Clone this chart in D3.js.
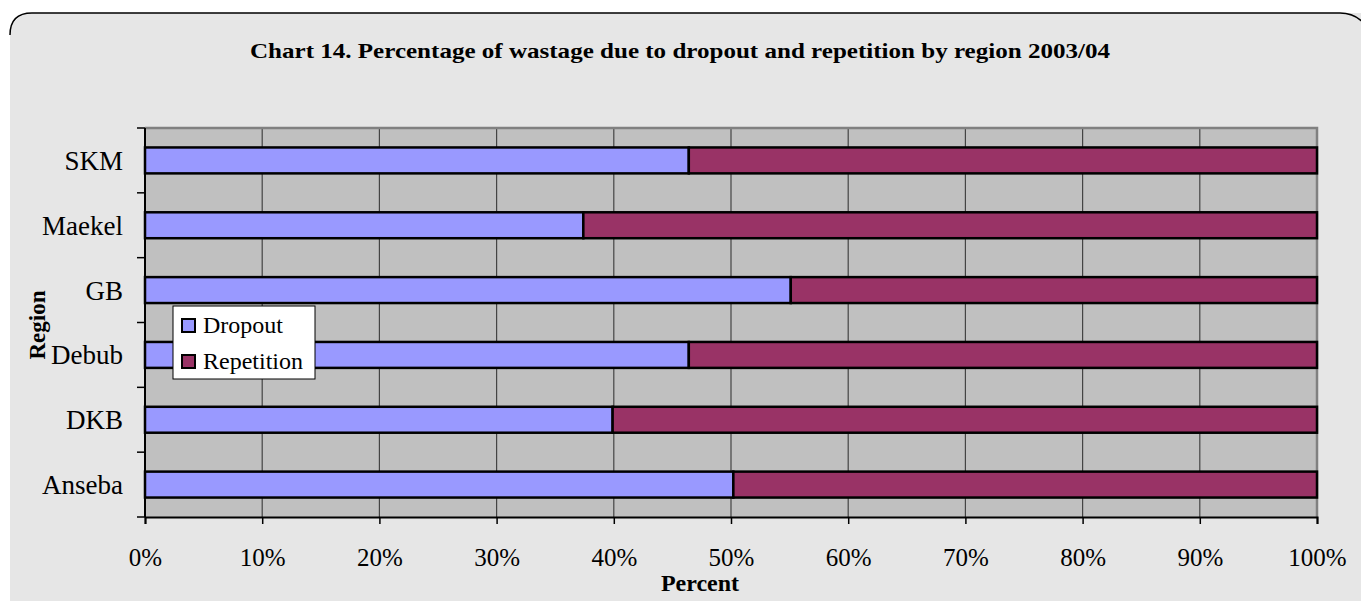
<!DOCTYPE html>
<html>
<head>
<meta charset="utf-8">
<script src="https://cdn.jsdelivr.net/npm/d3@7"></script>
<style>
  body { margin: 0; background: #ffffff; }
  text { font-family: "Liberation Serif", "Times New Roman", serif; fill: #000; }
</style>
</head>
<body>
<div id="chart"></div>
<script>
const regions = ["SKM", "Maekel", "GB", "Debub", "DKB", "Anseba"];
const dropout = [46.4, 37.4, 55.1, 46.4, 39.9, 50.2];
const repetition = [53.6, 62.6, 44.9, 53.6, 60.1, 49.8];
const seriesNames = ["Dropout", "Repetition"];
const seriesColors = ["#9999ff", "#993366"];
const xTicks = [0, 10, 20, 30, 40, 50, 60, 70, 80, 90, 100];

const width = 1361, height = 601;
const plot = { left: 145, right: 1317, top: 128, bottom: 517 };

const svg = d3.select("#chart")
    .append("svg")
    .attr("width", width)
    .attr("height", height);

// outer chart frame (rounded, cut off at right/bottom)
svg.append("rect")
    .attr("x", 10).attr("y", 13)
    .attr("width", 1372).attr("height", 640)
    .attr("rx", 22)
    .style("fill", "#e6e6e6")
    .style("stroke", "none");
svg.append("path")
    .attr("d", "M10,35 Q10,13 32,13 L1340,13 Q1361,13 1372,35")
    .style("fill", "none")
    .style("stroke", "#000")
    .style("stroke-width", 1.5);

var xscale = d3.scaleLinear()
    .domain([0, 100])
    .range([plot.left, plot.right]);

var yscale = d3.scaleBand()
    .domain(regions)
    .range([plot.top, plot.bottom])
    .paddingInner(0.6)
    .paddingOuter(0.3);

// plot background
svg.append("rect")
    .attr("x", plot.left).attr("y", plot.top)
    .attr("width", plot.right - plot.left)
    .attr("height", plot.bottom - plot.top)
    .style("fill", "#c0c0c0");

// vertical gridlines
svg.selectAll(".grid")
    .data(xTicks.slice(1, -1))
    .enter()
    .append("line")
    .attr("x1", d => xscale(d)).attr("x2", d => xscale(d))
    .attr("y1", plot.top).attr("y2", plot.bottom)
    .style("stroke", "#444")
    .style("stroke-width", 1.2);

// top and right plot border
svg.append("path")
    .attr("d", `M${plot.left},${plot.top}H${plot.right}V${plot.bottom}`)
    .style("fill", "none")
    .style("stroke", "#808080")
    .style("stroke-width", 2.5);

// stacked bars
var rows = regions.map((r, i) => ({ region: r, values: [dropout[i], repetition[i]] }));
rows.forEach(function (row) {
    var start = 0;
    row.values.forEach(function (v, k) {
        svg.append("rect")
            .attr("x", xscale(start))
            .attr("y", yscale(row.region))
            .attr("width", xscale(start + v) - xscale(start))
            .attr("height", yscale.bandwidth())
            .style("fill", seriesColors[k])
            .style("stroke", "#000")
            .style("stroke-width", 2.5);
        start += v;
    });
});

// x axis
var xaxis = svg.append("g")
    .attr("transform", `translate(0, ${plot.bottom})`)
    .call(d3.axisBottom(xscale).tickValues(xTicks).tickSize(7).tickPadding(24)
        .tickFormat(d => d + "%"));
xaxis.select(".domain").style("stroke", "#000").style("stroke-width", 2);
xaxis.selectAll(".tick line").style("stroke", "#000").style("stroke-width", 1.5);
xaxis.selectAll("text")
    .style("font-family", "Liberation Serif")
    .style("font-size", "25px");

// y axis: line with ticks at band boundaries
var step = yscale.step();
var boundaries = d3.range(regions.length + 1).map(i => plot.top + i * step);
svg.append("line")
    .attr("x1", plot.left).attr("x2", plot.left)
    .attr("y1", plot.top).attr("y2", plot.bottom)
    .style("stroke", "#000").style("stroke-width", 2);
svg.selectAll(".ytick")
    .data(boundaries)
    .enter()
    .append("line")
    .attr("x1", plot.left - 8).attr("x2", plot.left)
    .attr("y1", d => d).attr("y2", d => d)
    .style("stroke", "#000").style("stroke-width", 1.5);
svg.selectAll(".ylabel")
    .data(regions)
    .enter()
    .append("text")
    .attr("x", plot.left - 22)
    .attr("y", d => yscale(d) + yscale.bandwidth() / 2)
    .attr("dy", "0.35em")
    .style("text-anchor", "end")
    .style("font-size", "27px")
    .text(d => d);

// titles
svg.append("text")
    .attr("x", 680).attr("y", 58)
    .attr("textLength", 860)
    .attr("lengthAdjust", "spacingAndGlyphs")
    .style("text-anchor", "middle")
    .style("font-weight", "bold")
    .style("font-size", "22px")
    .text("Chart 14. Percentage of wastage due to dropout and repetition by region 2003/04");

svg.append("text")
    .attr("x", 700).attr("y", 591)
    .style("text-anchor", "middle")
    .style("font-weight", "bold")
    .style("font-size", "24px")
    .text("Percent");

svg.append("text")
    .attr("transform", "translate(45, 325) rotate(-90)")
    .style("text-anchor", "middle")
    .style("font-weight", "bold")
    .style("font-size", "23px")
    .text("Region");

// legend
var legend = svg.append("g").attr("transform", "translate(173, 306)");
legend.append("rect")
    .attr("width", 142).attr("height", 73)
    .style("fill", "#fff")
    .style("stroke", "#000")
    .style("stroke-width", 1);
seriesNames.forEach(function (name, k) {
    legend.append("rect")
        .attr("x", 9).attr("y", 13 + k * 36)
        .attr("width", 13).attr("height", 13)
        .style("fill", seriesColors[k])
        .style("stroke", "#000")
        .style("stroke-width", 2);
    legend.append("text")
        .attr("x", 30).attr("y", 19 + k * 36)
        .attr("dy", "0.35em")
        .style("font-size", "24px")
        .text(name);
});
</script>
</body>
</html>
